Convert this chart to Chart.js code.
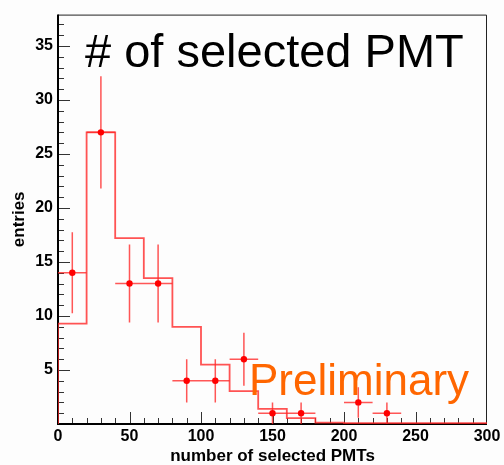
<!DOCTYPE html>
<html>
<head>
<meta charset="utf-8">
<script src="https://cdn.jsdelivr.net/npm/chart.js@4/dist/chart.umd.min.js"></script>
<style>
  body { margin: 0; background: #fdfdfd; }
  canvas { display: block; }
</style>
</head>
<body>
<canvas id="pmt-chart" width="504" height="465"></canvas>
<script>
const FONT = "'Liberation Sans', Arial, Helvetica, sans-serif";

// simulated spectrum, bins of 20 starting at 0
const binEdges = [0, 20, 40, 60, 80, 100, 120, 140, 160, 180, 200, 220, 240, 260, 280, 300];
const mcCounts = [9.3, 27, 17.2, 13.5, 9.0, 5.5, 3.05, 1.4, 0.55, 0.12, 0.07, 0.07, 0.07, 0.07, 0.07];

// measured entries (non-empty bins only)
const dataX = [10, 30, 50, 70, 90, 110, 130, 150, 170, 210, 230];
const dataY = [14, 27, 13, 13, 4, 4, 6, 1, 1, 2, 1];
const dataErr = [3.74, 5.2, 3.61, 3.61, 2, 2, 2.45, 1, 1, 1.41, 1];
const halfBin = 10;

const xTicks = [0, 50, 100, 150, 200, 250, 300];
const yTicks = [5, 10, 15, 20, 25, 30, 35];

// stepped outline of the simulated histogram
const histPoints = [{x: binEdges[0], y: 0}];
for (let i = 0; i < mcCounts.length; i++) {
    histPoints.push({x: binEdges[i], y: mcCounts[i]});
}
histPoints.push({x: binEdges[binEdges.length - 1], y: mcCounts[mcCounts.length - 1]});

const points = dataX.map((x, i) => ({x: x, y: dataY[i]}));

const rootStyle = {
    id: 'rootStyle',
    beforeDraw(chart) {
        const c = chart.ctx;
        c.save();
        c.fillStyle = '#fdfdfd';
        c.fillRect(0, 0, chart.width, chart.height);
        c.restore();
    },
    beforeDatasetsDraw(chart) {
        const c = chart.ctx;
        const a = chart.chartArea;
        const xs = chart.scales.x;
        const ys = chart.scales.y;
        c.save();
        // tick marks inside the frame
        c.strokeStyle = '#333';
        c.lineWidth = 1;
        c.beginPath();
        for (let v = 1; v <= 37; v++) {
            const py = Math.round(ys.getPixelForValue(v)) + 0.5;
            const len = v % 5 === 0 ? 12 : 6;
            c.moveTo(a.left, py);
            c.lineTo(a.left + len, py);
        }
        for (let v = 10; v < 300; v += 10) {
            const px = Math.round(xs.getPixelForValue(v)) + 0.5;
            const len = v % 50 === 0 ? 12 : 6;
            c.moveTo(px, a.bottom);
            c.lineTo(px, a.bottom - len);
        }
        c.stroke();

        // frame
        c.strokeStyle = '#222';
        c.lineWidth = 1;
        c.beginPath();
        c.moveTo(a.left, a.top + 0.5);
        c.lineTo(a.right - 0.5, a.top + 0.5);
        c.lineTo(a.right - 0.5, a.bottom);
        c.stroke();
        c.strokeStyle = '#000';
        c.lineWidth = 2;
        c.beginPath();
        c.moveTo(a.left, a.top);
        c.lineTo(a.left, a.bottom);
        c.lineTo(a.right, a.bottom);
        c.stroke();

        // error bars of the measured entries
        c.strokeStyle = 'rgba(255, 30, 30, 0.75)';
        c.lineWidth = 1.5;
        c.beginPath();
        dataX.forEach((x, i) => {
            const px = xs.getPixelForValue(x);
            const py = ys.getPixelForValue(dataY[i]);
            c.moveTo(px, ys.getPixelForValue(dataY[i] - dataErr[i]));
            c.lineTo(px, ys.getPixelForValue(dataY[i] + dataErr[i]));
            c.moveTo(xs.getPixelForValue(x - halfBin), py);
            c.lineTo(xs.getPixelForValue(x + halfBin), py);
        });
        c.stroke();
        c.restore();
    },
    afterDraw(chart) {
        const c = chart.ctx;
        const a = chart.chartArea;
        c.save();
        c.fillStyle = '#000';
        c.textBaseline = 'alphabetic';
        c.font = '47px ' + FONT;
        c.textAlign = 'left';
        c.fillText('# of selected PMT', 85, 67);

        c.fillStyle = '#ff6600';
        c.font = '44px ' + FONT;
        c.fillText('Preliminary', 249, 395);

        c.fillStyle = '#000';
        c.font = 'bold 17px ' + FONT;
        c.textAlign = 'center';
        c.fillText('number of selected PMTs', (a.left + a.right) / 2, 461);

        c.translate(24, (a.top + a.bottom) / 2);
        c.rotate(-Math.PI / 2);
        c.fillText('entries', 0, 0);
        c.restore();
    }
};

const config = {
    data: {
        datasets: [
            {
                type: 'line',
                label: 'simulation',
                data: histPoints,
                stepped: true,
                fill: false,
                borderColor: 'rgba(255, 40, 40, 0.8)',
                borderWidth: 1.8,
                pointRadius: 0,
                order: 2
            },
            {
                type: 'scatter',
                label: 'data',
                data: points,
                pointRadius: 3.2,
                pointBackgroundColor: '#ff0000',
                pointBorderWidth: 0,
                borderColor: '#ff0000',
                order: 1
            }
        ]
    },
    options: {
        responsive: false,
        animation: false,
        layout: {
            padding: {left: 0, top: 13, right: 17, bottom: 0}
        },
        plugins: {
            legend: {display: false},
            tooltip: {enabled: false}
        },
        scales: {
            x: {
                type: 'linear',
                min: 0,
                max: 300,
                afterFit: (scale) => { scale.height = 41; },
                afterBuildTicks: (scale) => { scale.ticks = xTicks.map(v => ({value: v})); },
                grid: {display: false, drawTicks: false},
                border: {display: false},
                ticks: {
                    padding: 3,
                    color: '#000',
                    maxRotation: 0,
                    font: {family: FONT, size: 16, weight: 'bold'}
                }
            },
            y: {
                type: 'linear',
                min: 0,
                max: 37.9,
                afterFit: (scale) => { scale.width = 58; },
                afterBuildTicks: (scale) => { scale.ticks = yTicks.map(v => ({value: v})); },
                grid: {display: false, drawTicks: false},
                border: {display: false},
                ticks: {
                    padding: 5,
                    color: '#000',
                    font: {family: FONT, size: 16, weight: 'bold'}
                }
            }
        }
    },
    plugins: [rootStyle]
};

const chart = new Chart(document.getElementById('pmt-chart'), config);
</script>
</body>
</html>
